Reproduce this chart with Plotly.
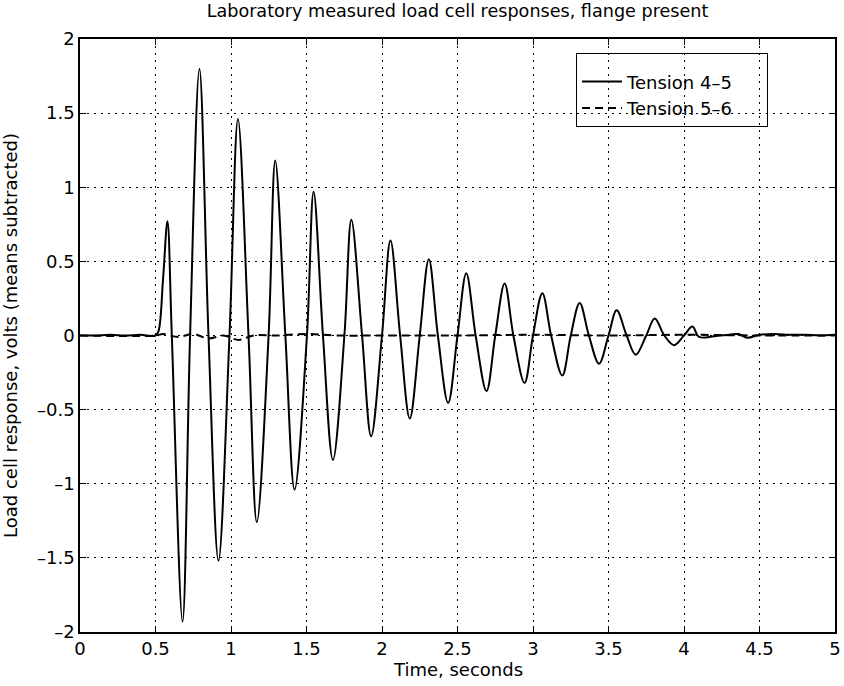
import plotly.graph_objects as go

# ---- data ----
t_45 = [0.0, 0.1, 0.2, 0.3, 0.4, 0.5, 0.52, 0.55, 0.579, 0.608, 0.679, 0.729, 0.791,
        0.851, 0.917, 0.99, 1.046, 1.116, 1.171, 1.249, 1.293, 1.36, 1.421, 1.503,
        1.547, 1.609, 1.675, 1.751, 1.797, 1.868, 1.928, 2.0, 2.056, 2.12, 2.184,
        2.25, 2.31, 2.37, 2.438, 2.5, 2.558, 2.62, 2.692, 2.75, 2.812, 2.87, 2.944,
        3.0, 3.062, 3.12, 3.194, 3.25, 3.309, 3.37, 3.437, 3.5, 3.554, 3.62, 3.68,
        3.75, 3.806, 3.87, 3.934, 4.0, 4.056, 4.1, 4.2, 4.3, 4.36, 4.42, 4.5, 4.6,
        4.7, 4.8, 4.9, 5.0]
v_45 = [0.0, 0.0, 0.005, 0.0, 0.005, 0.0, 0.03, 0.38, 0.77, 0.0, -1.93, 0.0, 1.80,
        0.0, -1.52, 0.0, 1.46, 0.0, -1.26, 0.0, 1.18, 0.0, -1.04, 0.0,
        0.97, 0.0, -0.84, 0.0, 0.78, 0.0, -0.68, 0.0, 0.64, 0.0, -0.56,
        0.0, 0.515, 0.0, -0.455, 0.0, 0.42, 0.0, -0.375, 0.0, 0.35, 0.0, -0.32,
        0.0, 0.285, 0.0, -0.27, 0.0, 0.22, 0.0, -0.19, 0.0, 0.17, 0.0, -0.13,
        0.0, 0.115, 0.0, -0.065, 0.0, 0.06, -0.01, -0.005, 0.005, 0.01, -0.015, 0.005, 0.01,
        0.005, 0.005, 0.0, 0.005]

t_56 = [0.0, 0.5, 0.55, 0.65, 0.75, 0.85, 0.95, 1.05, 1.15, 1.3, 1.5, 1.7, 2.0,
        2.5, 3.0, 3.5, 4.0, 4.5, 5.0]
v_56 = [0.0, 0.0, 0.01, -0.01, 0.01, -0.02, 0.0, -0.03, 0.0, 0.0, 0.01, 0.0, 0.0,
        0.0, 0.005, 0.0, 0.005, 0.0, 0.0]

x_ticks = [0, 0.5, 1, 1.5, 2, 2.5, 3, 3.5, 4, 4.5, 5]
x_tick_text = ["0", "0.5", "1", "1.5", "2", "2.5", "3", "3.5", "4", "4.5", "5"]
y_ticks = [-2, -1.5, -1, -0.5, 0, 0.5, 1, 1.5, 2]
y_tick_text = ["\u20132", "\u20131.5", "\u20131", "\u20130.5", "0", "0.5", "1", "1.5", "2"]

series_names = ["Tension 4\u20135", "Tension 5\u20136"]
x_title = "Time, seconds"
y_title = "Load cell response, volts (means subtracted)"
chart_title = "Laboratory measured load cell responses, flange present"

FONT = "DejaVu Sans"
PAD = "\u00a0" * 5  # keeps the legend frame as wide as in the reference

fig = go.Figure()
fig.add_trace(go.Scatter(x=t_45, y=v_45, mode="lines", name=series_names[0] + PAD,
                         line=dict(color="black", width=2, shape="spline", smoothing=1.0)))
fig.add_trace(go.Scatter(x=t_56, y=v_56, mode="lines", name=series_names[1] + PAD,
                         line=dict(color="black", width=2, dash="8px,5px",
                                   shape="spline", smoothing=1.0)))

axis_common = dict(
    showline=True, linecolor="black", linewidth=1.5, mirror="ticks",
    ticks="inside", ticklen=6, tickcolor="black", tickwidth=1,
    showgrid=True, gridcolor="black", gridwidth=1, griddash="2px,5px",
    zeroline=False, automargin=False, ticklabeloverflow="allow",
    tickfont=dict(family=FONT, size=18, color="black"),
)

fig.update_xaxes(range=[0, 5], tickvals=x_ticks, ticktext=x_tick_text, **axis_common)
fig.update_yaxes(range=[-2, 2], tickvals=y_ticks, ticktext=y_tick_text,
                 title=dict(text=y_title,
                            font=dict(family=FONT, size=18, color="black"), standoff=19),
                 **axis_common)

fig.add_annotation(text=x_title, xref="paper", yref="paper", x=0.5, y=-37 / 593,
                   xanchor="center", yanchor="middle", showarrow=False, borderpad=0,
                   font=dict(family=FONT, size=18, color="black"))

fig.update_layout(
    width=844, height=686,
    margin=dict(l=80, r=9, t=39, b=54),
    paper_bgcolor="white", plot_bgcolor="white",
    font=dict(family=FONT, size=18, color="black"),
    title=dict(text=chart_title,
               font=dict(family=FONT, size=17.6, color="black"),
               x=0.5, xref="paper", xanchor="center",
               y=1 - 11 / 686, yref="container", yanchor="middle"),
    legend=dict(x=0.657, y=0.976, xanchor="left", yanchor="top",
                bgcolor="rgba(0,0,0,0)", bordercolor="black", borderwidth=1,
                itemwidth=40,
                title=dict(text="\u00a0", font=dict(family=FONT, size=7)),
                font=dict(family=FONT, size=18, color="black")),
    showlegend=True,
)

# the page body has a default 8px margin; remove it so the figure sits at (0, 0)
fig.write_html("out.html", config={"displayModeBar": False},
               post_script="document.body.style.margin='0px';")
